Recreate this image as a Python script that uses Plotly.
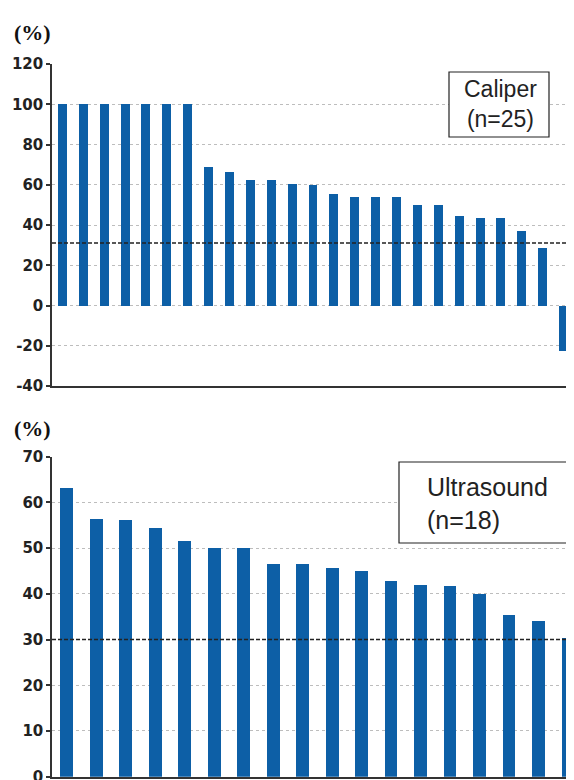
import plotly.graph_objects as go

# ---- data ----
caliper_values = [100, 100, 100, 100, 100, 100, 100, 69, 66.5, 62.3, 62.3, 60.5, 60,
                  55.2, 54, 54, 54, 49.8, 49.8, 44.3, 43.6, 43.6, 37, 28.7, -22.4]
caliper_cats = [f"C{i+1}" for i in range(len(caliper_values))]
caliper_threshold = 31

us_values = [63.3, 56.5, 56.2, 54.5, 51.6, 50.0, 50.0, 46.7, 46.7, 45.8, 45.1,
             42.8, 41.9, 41.8, 40.0, 35.4, 34.2, 30.3]
us_cats = [f"U{i+1}" for i in range(len(us_values))]
us_threshold = 30

top_ticks = [-40, -20, 0, 20, 40, 60, 80, 100, 120]
top_ticktext = ["-40", "-20", "0", "20", "40", "60", "80", "100", "120"]
bottom_ticks = [0, 10, 20, 30, 40, 50, 60, 70]
bottom_ticktext = ["0", "10", "20", "30", "40", "50", "60", "70"]

BAR = "#0d5fa6"
OFF = 8              # page body margin
W, H = 574 - OFF, 780 - OFF


def px(x):
    return (x - OFF) / W


def py(y):
    return (H - (y - OFF)) / H


fig = go.Figure()
fig.add_trace(go.Bar(x=caliper_cats, y=caliper_values, marker_color=BAR,
                     marker_line_width=0, width=0.43, xaxis="x", yaxis="y"))
fig.add_trace(go.Bar(x=us_cats, y=us_values, marker_color=BAR,
                     marker_line_width=0, width=0.43, xaxis="x2", yaxis="y2"))

tickfont = dict(family="DejaVu Sans", size=15, color="#222", weight="bold")
xd = [px(52), 1.0]
top_dom = [py(386), py(64)]
bot_dom = [max(0, py(776.7)), py(456.7)]

common_y = dict(showline=True, linecolor="#333", linewidth=1.5, ticks="outside",
                ticklen=4, tickcolor="#333", tickwidth=1.5, tickfont=tickfont,
                showgrid=True, gridcolor="#bdbdbd", griddash="dot", gridwidth=1,
                zeroline=False, fixedrange=True, automargin=False,
                ticklabeloverflow="allow")
common_x = dict(showline=True, linecolor="#333", linewidth=1.5, showticklabels=False,
                ticks="", showgrid=False, zeroline=False, fixedrange=True, automargin=False)

fig.update_layout(
    width=W, height=H, margin=dict(l=0, r=0, t=0, b=0, autoexpand=False),
    paper_bgcolor="white", plot_bgcolor="white", showlegend=False, bargap=0,
    xaxis=dict(domain=xd, anchor="y", range=[-0.5, len(caliper_values) - 0.5], **common_x),
    yaxis=dict(domain=top_dom, anchor="x", range=[-40, 120], tickvals=top_ticks,
               ticktext=top_ticktext, **common_y),
    xaxis2=dict(domain=xd, anchor="y2", range=[-0.5, 17.2], **common_x),
    yaxis2=dict(domain=bot_dom, anchor="x2", range=[0, 70], tickvals=bottom_ticks,
                ticktext=bottom_ticktext, **common_y),
)

# threshold lines
fig.add_shape(type="line", xref="x domain", yref="y", x0=0, x1=1,
              y0=caliper_threshold, y1=caliper_threshold,
              line=dict(color="#222", width=1.5, dash="4px,2px"))
fig.add_shape(type="line", xref="x2 domain", yref="y2", x0=0, x1=1,
              y0=us_threshold, y1=us_threshold,
              line=dict(color="#222", width=1.5, dash="4px,2px"))

# label boxes
fig.add_shape(type="rect", xref="paper", yref="paper",
              x0=px(449), x1=px(549), y0=py(137), y1=py(72),
              line=dict(color="#222", width=1.2), fillcolor="white", layer="above")
fig.add_annotation(xref="paper", yref="paper", x=px(500), y=py(104),
                   xanchor="center", yanchor="middle",
                   text="Caliper<br>(n=25)", showarrow=False, align="center",
                   font=dict(family="Liberation Sans", size=23, color="#222"))
fig.add_shape(type="rect", xref="paper", yref="paper",
              x0=px(399), x1=px(573), y0=py(543), y1=py(462),
              line=dict(color="#222", width=1.2), fillcolor="white", layer="above")
fig.add_annotation(xref="paper", yref="paper", x=px(425), y=py(503),
                   xanchor="left", yanchor="middle", text="Ultrasound<br>(n=18)",
                   showarrow=False, align="left",
                   font=dict(family="Liberation Sans", size=25, color="#222"))

# (%) labels
for yc in (32, 429):
    fig.add_annotation(xref="paper", yref="paper", x=px(32), y=py(yc),
                       xanchor="center", yanchor="middle",
                       text="(%)", showarrow=False,
                       font=dict(family="Liberation Serif", size=22, color="#111", weight="bold"))

fig.write_html("out.html")
